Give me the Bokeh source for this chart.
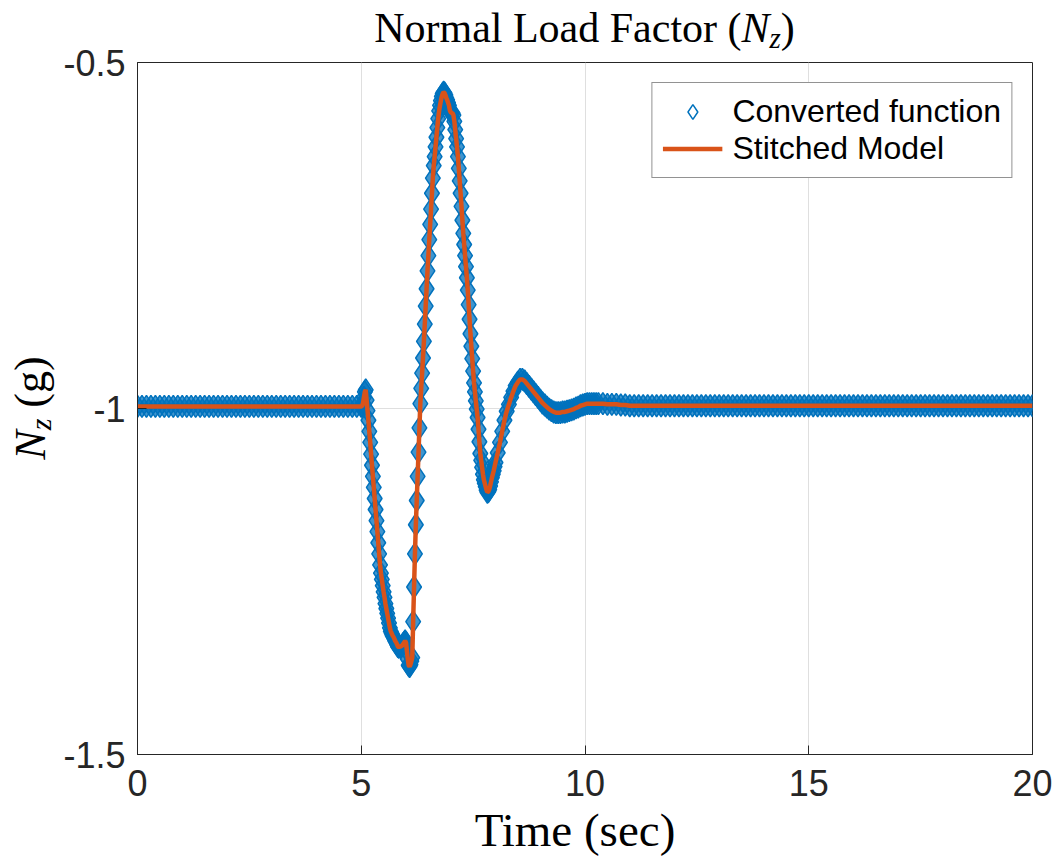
from bokeh.plotting import figure
from bokeh.models import Range1d, FixedTicker, Div
from bokeh.layouts import column
from bokeh.embed import file_html
from bokeh.resources import INLINE

# ---------------- data ----------------
x_ticks = [0, 5, 10, 15, 20]
x_tick_labels = ["0", "5", "10", "15", "20"]
y_ticks = [-1.5, -1.0, -0.5]
y_tick_labels = ["-1.5", "-1", "-0.5"]

# segment A: steady state before the manoeuvre
t_a = [0.0, 0.1, 0.2, 0.3, 0.4, 0.5, 0.6, 0.7, 0.8, 0.9,
       1.0, 1.1, 1.2, 1.3, 1.4, 1.5, 1.6, 1.7, 1.8, 1.9,
       2.0, 2.1, 2.2, 2.3, 2.4, 2.5, 2.6, 2.7, 2.8, 2.9,
       3.0, 3.1, 3.2, 3.3, 3.4, 3.5, 3.6, 3.7, 3.8, 3.9,
       4.0, 4.1, 4.2, 4.3, 4.4, 4.5, 4.6, 4.7, 4.8, 4.9]
nz_a = [-0.997, -0.997, -0.997, -0.997, -0.997, -0.997, -0.997, -0.997, -0.997, -0.997,
        -0.997, -0.997, -0.997, -0.997, -0.997, -0.997, -0.997, -0.997, -0.997, -0.997,
        -0.997, -0.997, -0.997, -0.997, -0.997, -0.997, -0.997, -0.997, -0.997, -0.997,
        -0.997, -0.997, -0.997, -0.997, -0.997, -0.997, -0.997, -0.997, -0.997, -0.997,
        -0.997, -0.997, -0.997, -0.997, -0.997, -0.997, -0.997, -0.997, -0.997, -0.997]

# segment B: the doublet response
t_b = [5.00, 5.02, 5.04, 5.06, 5.08, 5.10, 5.12, 5.14, 5.16, 5.18,
       5.20, 5.22, 5.24, 5.26, 5.28, 5.30, 5.32, 5.34, 5.36, 5.38,
       5.40, 5.42, 5.44, 5.46, 5.48, 5.50, 5.52, 5.54, 5.56, 5.58,
       5.60, 5.62, 5.64, 5.66, 5.68, 5.70, 5.72, 5.74, 5.76, 5.78,
       5.80, 5.82, 5.84, 5.86, 5.88, 5.90, 5.92, 5.94, 5.96, 5.98,
       6.00, 6.02, 6.04, 6.06, 6.08, 6.10, 6.12, 6.14, 6.16, 6.18,
       6.20, 6.22, 6.24, 6.26, 6.28, 6.30, 6.32, 6.34, 6.36, 6.38,
       6.40, 6.42, 6.44, 6.46, 6.48, 6.50, 6.52, 6.54, 6.56, 6.58,
       6.60, 6.62, 6.64, 6.66, 6.68, 6.70, 6.72, 6.74, 6.76, 6.78,
       6.80, 6.82, 6.84, 6.86, 6.88, 6.90, 6.92, 6.94, 6.96, 6.98,
       7.00, 7.02, 7.04, 7.06, 7.08, 7.10, 7.12, 7.14, 7.16, 7.18,
       7.20, 7.22, 7.24, 7.26, 7.28, 7.30, 7.32, 7.34, 7.36, 7.38,
       7.40, 7.42, 7.44, 7.46, 7.48, 7.50, 7.52, 7.54, 7.56, 7.58,
       7.60, 7.62, 7.64, 7.66, 7.68, 7.70, 7.72, 7.74, 7.76, 7.78,
       7.80, 7.82, 7.84, 7.86, 7.88, 7.90, 7.92, 7.94, 7.96, 7.98,
       8.00]
nz_b = [-0.997, -0.996, -0.992, -0.984, -0.976, -0.973, -0.988, -1.003, -1.017, -1.033,
        -1.049, -1.066, -1.082, -1.098, -1.114, -1.130, -1.146, -1.162, -1.178, -1.194,
        -1.210, -1.226, -1.238, -1.247, -1.256, -1.265, -1.273, -1.282, -1.289, -1.296,
        -1.303, -1.310, -1.317, -1.322, -1.325, -1.328, -1.330, -1.333, -1.336, -1.338,
        -1.341, -1.344, -1.345, -1.344, -1.344, -1.343, -1.342, -1.340, -1.338, -1.336,
        -1.338, -1.350, -1.362, -1.371, -1.373, -1.370, -1.365, -1.360, -1.308, -1.258,
        -1.210, -1.168, -1.133, -1.098, -1.063, -1.028, -0.993, -0.971, -0.949, -0.927,
        -0.903, -0.878, -0.852, -0.827, -0.801, -0.779, -0.756, -0.734, -0.712, -0.689,
        -0.667, -0.649, -0.636, -0.622, -0.608, -0.594, -0.581, -0.570, -0.562, -0.555,
        -0.549, -0.545, -0.543, -0.544, -0.547, -0.551, -0.554, -0.558, -0.562, -0.569,
        -0.572, -0.573, -0.573, -0.576, -0.585, -0.597, -0.610, -0.622, -0.636, -0.653,
        -0.671, -0.689, -0.708, -0.728, -0.747, -0.763, -0.779, -0.795, -0.811, -0.829,
        -0.850, -0.871, -0.892, -0.910, -0.928, -0.946, -0.963, -0.976, -0.989, -1.001,
        -1.013, -1.030, -1.048, -1.065, -1.075, -1.085, -1.095, -1.103, -1.108, -1.113,
        -1.118, -1.121, -1.120, -1.117, -1.112, -1.106, -1.100, -1.095, -1.090, -1.084,
        -1.078]

# segment C: settling oscillation
t_c = [8.05, 8.10, 8.15, 8.20, 8.25, 8.30, 8.35, 8.40, 8.45, 8.50,
       8.55, 8.60, 8.65, 8.70, 8.75, 8.80, 8.85, 8.90, 8.95, 9.00,
       9.05, 9.10, 9.15, 9.20, 9.25, 9.30, 9.35, 9.40, 9.45, 9.50,
       9.55, 9.60, 9.65, 9.70, 9.75, 9.80, 9.85, 9.90, 9.95, 10.00,
       10.05, 10.10, 10.15, 10.20, 10.25, 10.30]
nz_c = [-1.064, -1.049, -1.033, -1.017, -1.004, -0.994, -0.984, -0.975, -0.967, -0.962,
        -0.958, -0.958, -0.960, -0.964, -0.968, -0.972, -0.976, -0.980, -0.984, -0.988,
        -0.992, -0.995, -0.998, -1.001, -1.003, -1.005, -1.006, -1.006, -1.006, -1.005,
        -1.005, -1.004, -1.003, -1.002, -1.001, -0.999, -0.998, -0.996, -0.995, -0.994,
        -0.993, -0.993, -0.993, -0.993, -0.993, -0.993]

# segment D: steady state after the manoeuvre
t_d = [10.4, 10.5, 10.6, 10.7, 10.8, 10.9,
       11.0, 11.1, 11.2, 11.3, 11.4, 11.5, 11.6, 11.7, 11.8, 11.9,
       12.0, 12.1, 12.2, 12.3, 12.4, 12.5, 12.6, 12.7, 12.8, 12.9,
       13.0, 13.1, 13.2, 13.3, 13.4, 13.5, 13.6, 13.7, 13.8, 13.9,
       14.0, 14.1, 14.2, 14.3, 14.4, 14.5, 14.6, 14.7, 14.8, 14.9,
       15.0, 15.1, 15.2, 15.3, 15.4, 15.5, 15.6, 15.7, 15.8, 15.9,
       16.0, 16.1, 16.2, 16.3, 16.4, 16.5, 16.6, 16.7, 16.8, 16.9,
       17.0, 17.1, 17.2, 17.3, 17.4, 17.5, 17.6, 17.7, 17.8, 17.9,
       18.0, 18.1, 18.2, 18.3, 18.4, 18.5, 18.6, 18.7, 18.8, 18.9,
       19.0, 19.1, 19.2, 19.3, 19.4, 19.5, 19.6, 19.7, 19.8, 19.9,
       20.0]
nz_d = [-0.993, -0.994, -0.994, -0.994, -0.995, -0.995,
        -0.996, -0.996, -0.996, -0.996, -0.996, -0.996, -0.996, -0.996, -0.996, -0.996,
        -0.996, -0.996, -0.996, -0.996, -0.996, -0.996, -0.996, -0.996, -0.996, -0.996,
        -0.996, -0.996, -0.996, -0.996, -0.996, -0.996, -0.996, -0.996, -0.996, -0.996,
        -0.996, -0.996, -0.996, -0.996, -0.996, -0.996, -0.996, -0.996, -0.996, -0.996,
        -0.996, -0.996, -0.996, -0.996, -0.996, -0.996, -0.996, -0.996, -0.996, -0.996,
        -0.996, -0.996, -0.996, -0.996, -0.996, -0.996, -0.996, -0.996, -0.996, -0.996,
        -0.996, -0.996, -0.996, -0.996, -0.996, -0.996, -0.996, -0.996, -0.996, -0.996,
        -0.996, -0.996, -0.996, -0.996, -0.996, -0.996, -0.996, -0.996, -0.996, -0.996,
        -0.996, -0.996, -0.996, -0.996, -0.996, -0.996, -0.996, -0.996, -0.996, -0.996,
        -0.996]

time_sec = t_a + t_b + t_c + t_d
nz_converted = nz_a + nz_b + nz_c + nz_d
# the stitched model lies on top of the converted function in the picture
nz_stitched = list(nz_converted)

# ---------------- styling ----------------
BLUE = "#0072BD"
ORANGE = "#D95319"
AX = "#262626"
SANS = "Liberation Sans"
W, H = 1057, 863

p = figure(width=W, height=H,
           x_range=Range1d(0, 20), y_range=Range1d(-1.5, -0.5),
           output_backend="svg", toolbar_location=None,
           min_border_left=137, min_border_right=25,
           min_border_top=62, min_border_bottom=109,
           background_fill_color="white", border_fill_color="white")
p.outline_line_color = AX
p.outline_line_width = 1

# dense diamond band (fill only, builds up where samples crowd together)
p.scatter(time_sec, nz_converted, marker="diamond", size=22,
          line_color=None, fill_color=BLUE, fill_alpha=0.75)
# hollow diamonds of the converted function
p.scatter(time_sec, nz_converted, marker="diamond", size=22,
          line_color=BLUE, line_width=1.5, fill_color=None,
          legend_label="Converted function")
p.line(time_sec, nz_stitched, line_color=ORANGE, line_width=4.5,
       legend_label="Stitched Model")

def style_axis(ax, ticks, labels):
    ax.ticker = FixedTicker(ticks=ticks)
    ax.major_label_overrides = {t: l for t, l in zip(ticks, labels)}
    ax.axis_line_color = AX
    ax.axis_line_width = 1
    ax.major_tick_line_color = AX
    ax.major_tick_in = 9
    ax.major_tick_out = 0
    ax.minor_tick_line_color = None
    ax.major_label_text_font = SANS
    ax.major_label_text_color = AX
    ax.major_label_text_font_size = "36px"

style_axis(p.xaxis[0], x_ticks, x_tick_labels)
p.xaxis[0].major_label_standoff = 15
style_axis(p.yaxis[0], y_ticks, y_tick_labels)
p.yaxis[0].major_label_standoff = 12

p.xgrid.ticker = FixedTicker(ticks=x_ticks)
p.ygrid.ticker = FixedTicker(ticks=y_ticks)
p.xgrid.grid_line_color = "#dfdfdf"
p.ygrid.grid_line_color = "#dfdfdf"

leg = p.legend[0]
leg.location = "top_right"
leg.margin = 20
leg.padding = 10
leg.spacing = 0
leg.label_height = 37
leg.glyph_height = 37
leg.glyph_width = 60
leg.label_standoff = 10
leg.label_text_font = SANS
leg.label_text_font_size = "32px"
leg.label_text_color = "black"
leg.border_line_color = AX
leg.border_line_width = 1
leg.background_fill_color = "white"
leg.background_fill_alpha = 1.0

# ---------------- title and axis labels (real HTML text, overlaid) ----------------
SERIF = "font-family:'Liberation Serif',serif;color:#000;white-space:nowrap;"
title_html = (
    f'<div style="position:absolute;left:137px;top:7px;width:895px;text-align:center;'
    f'{SERIF}font-size:42px;line-height:42px;">Normal Load Factor ('
    '<span style="font-style:italic">N</span>'
    '<span style="font-style:italic;font-size:29px;position:relative;top:6px">z</span>)</div>'
)
xlabel_html = (
    f'<div style="position:absolute;left:275px;top:807px;width:600px;text-align:center;'
    f'{SERIF}font-size:47px;line-height:47px;">Time (sec)</div>'
)
ylabel_html = (
    f'<div style="position:absolute;left:9px;top:508px;width:200px;text-align:center;'
    f'transform:rotate(-90deg);transform-origin:0 0;'
    f'{SERIF}font-size:44px;line-height:44px;">'
    '<span style="font-style:italic">N</span>'
    '<span style="font-style:italic;font-size:30px;position:relative;top:6px">z</span> (g)</div>'
)
overlay = Div(
    text=f'<div style="position:relative;width:{W}px;height:{H}px;">'
         + title_html + xlabel_html + ylabel_html + '</div>',
    width=W, height=H, margin=(-H, 0, 0, 0))

layout = column(p, overlay)
open("out.html", "w").write(file_html(layout, INLINE))
